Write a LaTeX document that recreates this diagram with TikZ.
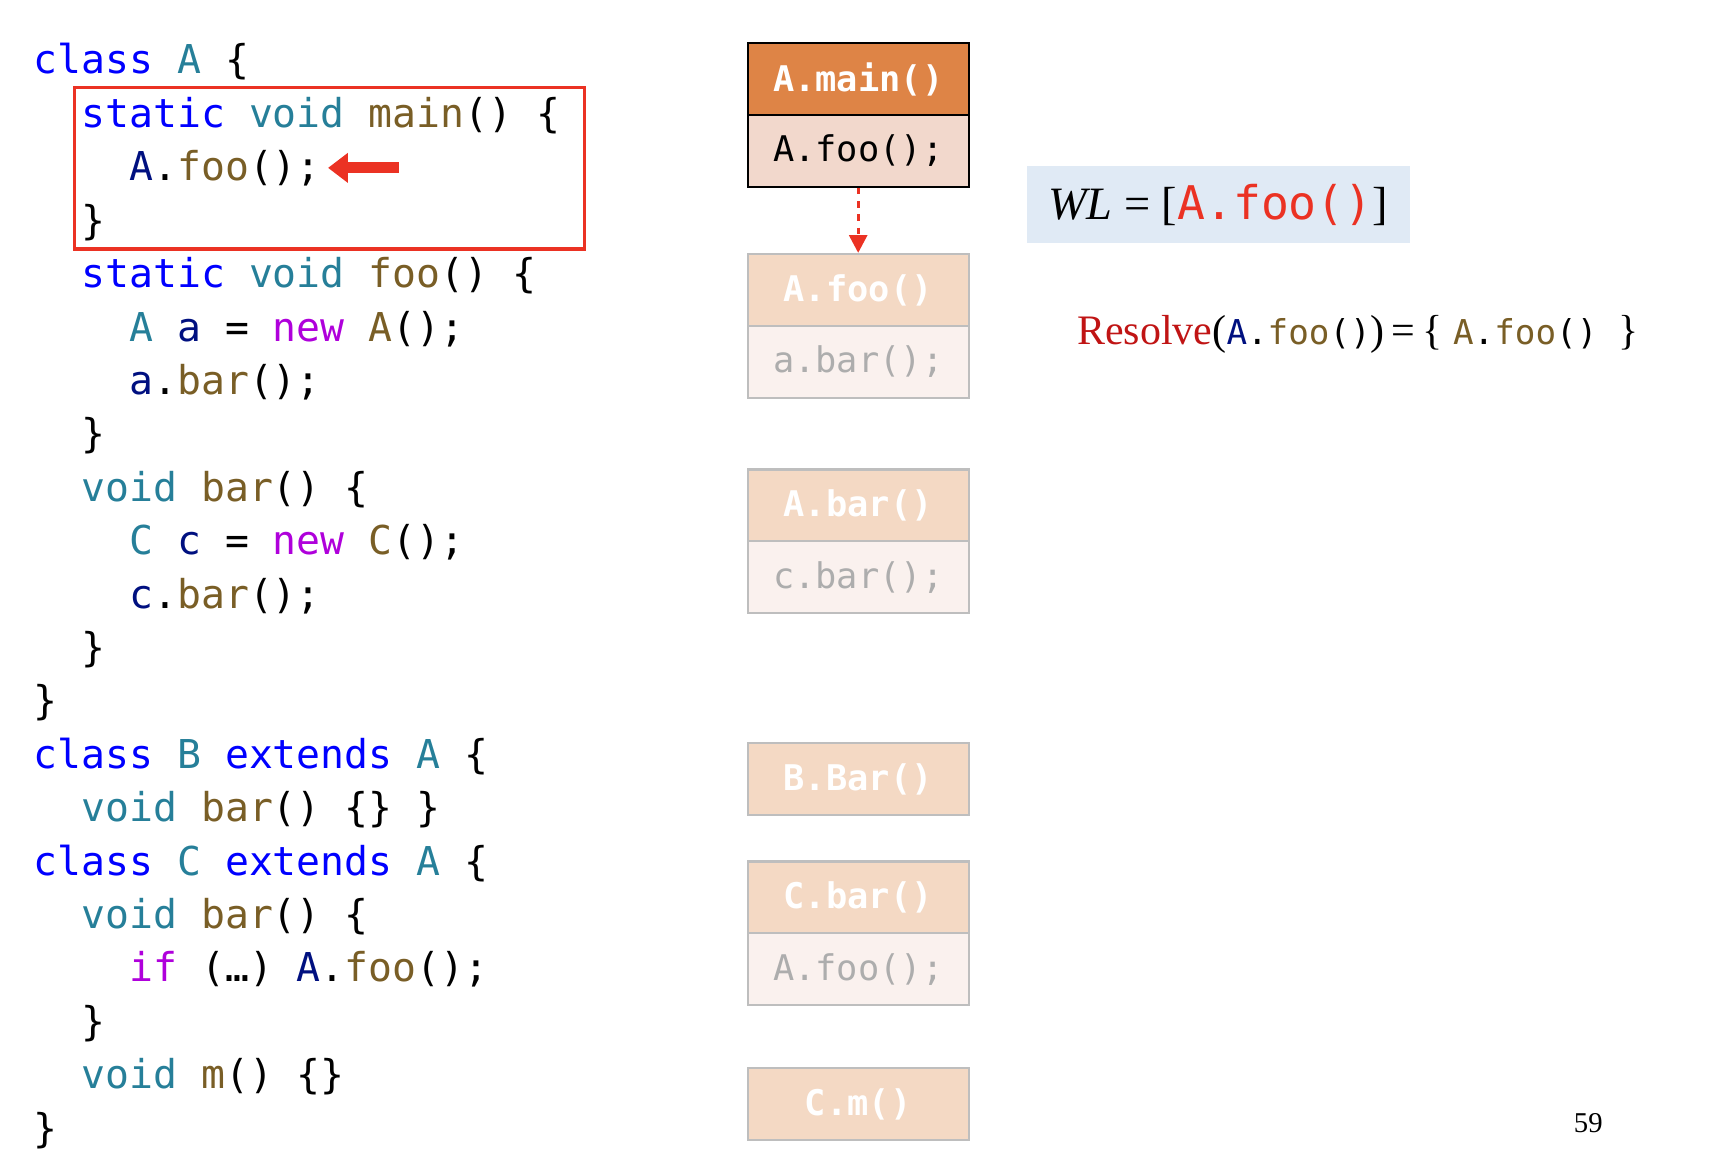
\documentclass[tikz,border=0pt]{standalone}
\usepackage{fontspec}
\setmainfont{Liberation Serif}
\newfontfamily\cm{DejaVu Sans Mono}
\usetikzlibrary{arrows.meta}
\definecolor{kw}{RGB}{0,0,255}
\definecolor{ty}{RGB}{38,127,153}
\definecolor{fn}{RGB}{121,94,38}
\definecolor{vr}{RGB}{0,16,128}
\definecolor{pu}{RGB}{175,0,219}
\definecolor{hdr}{RGB}{222,132,70}
\definecolor{bdy}{RGB}{242,216,204}
\definecolor{fhdr}{RGB}{244,217,196}
\definecolor{fbdy}{RGB}{250,241,238}
\definecolor{fbr}{RGB}{190,190,190}
\definecolor{wlb}{RGB}{224,234,245}
\definecolor{rd}{RGB}{235,50,35}
\definecolor{dr}{RGB}{192,20,20}
\newcommand\K[1]{\textcolor{kw}{#1}}
\newcommand\T[1]{\textcolor{ty}{#1}}
\newcommand\F[1]{\textcolor{fn}{#1}}
\newcommand\V[1]{\textcolor{vr}{#1}}
\newcommand\PU[1]{\textcolor{pu}{#1}}
\begin{document}
\begin{tikzpicture}[x=0.5pt,y=-0.5pt,
  code/.style={anchor=base west,inner sep=0,font=\cm\fontsize{18}{20}\selectfont},
  bx/.style={minimum width=100pt,minimum height=32.5pt,inner sep=0,anchor=north west,font=\cm\fontsize{16}{18}\selectfont},
  hd/.style={bx,fill=hdr,draw=black,line width=1pt,text=white,font=\cm\bfseries\fontsize{16}{18}\selectfont},
  bd/.style={bx,fill=bdy,draw=black,line width=1pt},
  fh/.style={bx,fill=fhdr,draw=fbr,line width=1pt,text=white,font=\cm\bfseries\fontsize{16}{18}\selectfont},
  fb/.style={bx,fill=fbdy,draw=fbr,line width=1pt,text=black!32}]
\useasboundingbox (0,0) rectangle (1560,1063);
\def\ls{48.35}
\node[code] (l1) at (30,67) {\K{class} \T{A} \{};
\node[code] (l2) at (30,67+\ls) {\phantom{xx}\K{static} \T{void} \F{main}() \{};
\node[code] (l3) at (30,67+2*\ls) {\phantom{xxxx}\V{A}.\F{foo}();};
\node[code] (l4) at (30,67+3*\ls) {\phantom{xx}\}};
\node[code] (l5) at (30,67+4*\ls) {\phantom{xx}\K{static} \T{void} \F{foo}() \{};
\node[code] (l6) at (30,67+5*\ls) {\phantom{xxxx}\T{A} \V{a} = \PU{new} \F{A}();};
\node[code] (l7) at (30,67+6*\ls) {\phantom{xxxx}\V{a}.\F{bar}();};
\node[code] (l8) at (30,67+7*\ls) {\phantom{xx}\}};
\node[code] (l9) at (30,67+8*\ls) {\phantom{xx}\T{void} \F{bar}() \{};
\node[code] (l10) at (30,67+9*\ls) {\phantom{xxxx}\T{C} \V{c} = \PU{new} \F{C}();};
\node[code] (l11) at (30,67+10*\ls) {\phantom{xxxx}\V{c}.\F{bar}();};
\node[code] (l12) at (30,67+11*\ls) {\phantom{xx}\}};
\node[code] (l13) at (30,67+12*\ls) {\}};
\node[code] (l14) at (30,67+13*\ls) {\K{class} \T{B} \K{extends} \T{A} \{};
\node[code] (l15) at (30,67+14*\ls) {\phantom{xx}\T{void} \F{bar}() \{\} \}};
\node[code] (l16) at (30,67+15*\ls) {\K{class} \T{C} \K{extends} \T{A} \{};
\node[code] (l17) at (30,67+16*\ls) {\phantom{xx}\T{void} \F{bar}() \{};
\node[code] (l18) at (30,67+17*\ls) {\phantom{xxxx}\PU{if} (…) \V{A}.\F{foo}();};
\node[code] (l19) at (30,67+18*\ls) {\phantom{xx}\}};
\node[code] (l20) at (30,67+19*\ls) {\phantom{xx}\T{void} \F{m}() \{\}};
\node[code] (l21) at (30,67+20*\ls) {\}};
\node[draw=rd,line width=1.5pt,minimum width=231pt,minimum height=73pt,anchor=north west,inner sep=0] (sel) at (66,78) {};
\coordinate (ra) at (361,152);
\coordinate (rb) at (297,152);
\draw[rd,line width=5pt,-{Triangle[length=9pt,width=13pt]}] (ra) -- (rb);
% boxes
\node[hd] (mh) at (676,38) {A.main()};
\node[bd] (mb) at (676,103) {A.foo();};
\node[fh] (fh) at (676,229) {A.foo()};
\node[fb] (fbx) at (676,294) {a.bar();};
\node[fh] (bh) at (676,424) {A.bar()};
\node[fb] (bb) at (676,489) {c.bar();};
\node[fh] (Bh) at (676,672) {B.Bar()};
\node[fh] (ch) at (676,779) {C.bar()};
\node[fb] (cb) at (676,844) {A.foo();};
\node[fh] (mm) at (676,966) {C.m()};
\draw[rd,line width=1.5pt,dashed,-{Triangle[length=8pt,width=8pt]}] (mb.south) -- (fh.north);
\node[fill=wlb,minimum width=173.5pt,minimum height=35pt,anchor=north west,inner sep=0,font=\fontsize{21}{24}\selectfont] (wl) at (929,150) {\textit{WL} = [\textcolor{rd}{\cm A.foo()}]};
\node[anchor=base west,inner sep=0,font=\fontsize{19}{22}\selectfont] (res) at (975,312) {\textcolor{dr}{Resolve}({\cm\fontsize{15.5}{18}\selectfont\V{A}.\F{foo}()})\,=\,\{ {\cm\fontsize{15.5}{18}\selectfont\F{A}.\F{foo}()}\ \ \}};
\node[anchor=base,inner sep=0,font=\fontsize{13}{15}\selectfont] (pg) at (1438,1025) {59};
\end{tikzpicture}
\end{document}
